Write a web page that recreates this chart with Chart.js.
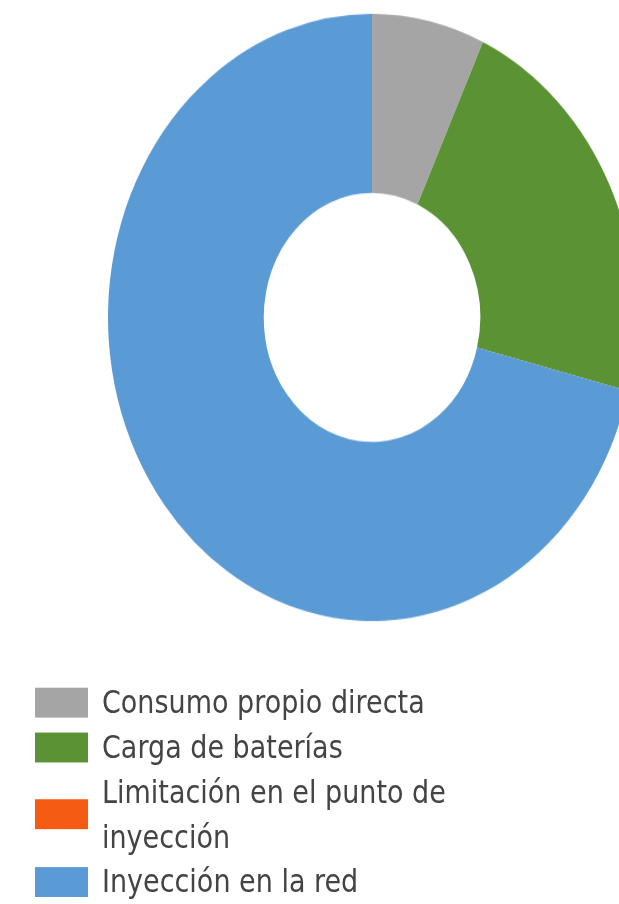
<!DOCTYPE html>
<html lang="es">
<head>
<meta charset="utf-8">
<title>Distribución de la energía FV</title>
<script src="https://cdn.jsdelivr.net/npm/chart.js@4.4.1/dist/chart.umd.min.js"></script>
<style>
  html { overflow: hidden; }
  html, body { margin: 0; padding: 0; background: #fff; }
  body { height: 904px; }
  /* the whole panel is drawn slightly taller than wide */
  #wrap { width: 640px; transform: scaleY(1.15); transform-origin: 0 0; }
  #chart { display: block; }
  #legend {
    list-style: none; margin: 31px 0 0 35px; padding: 0;
    font-family: "DejaVu Sans", sans-serif; font-size: 27px; line-height: 39px; color: #444;
  }
  #legend li { display: flex; align-items: center; }
  #legend .box { flex: none; width: 53px; height: 26px; margin-right: 14px; }
  #legend .txt { max-width: 370px; }
</style>
</head>
<body>
<div id="wrap">
  <canvas id="chart" width="640" height="560"></canvas>
  <ul id="legend"></ul>
</div>
<script>
// reparto de la producción (%)
const categories = ['Consumo propio directa', 'Carga de baterías', 'Limitación en el punto de inyección', 'Inyección en la red'];
const shares = [6.9, 22.0, 0, 71.1];
const colors = ['#a5a5a5', '#5b9334', '#f55b12', '#5b9bd5'];

const ctx = document.getElementById('chart').getContext('2d');

const chart = new Chart(ctx, {
  type: 'doughnut',
  data: {
    labels: categories,
    datasets: [{
      data: shares,
      backgroundColor: colors,
      borderWidth: 0
    }]
  },
  options: {
    responsive: false,
    animation: false,
    cutout: '41%',
    layout: {
      padding: { left: 108, right: 4, top: 12, bottom: 20 }
    },
    plugins: {
      legend: { display: false },
      tooltip: { enabled: false }
    }
  }
});

// leyenda en HTML, una fila por categoría
const legend = document.getElementById('legend');
chart.data.labels.forEach(function (label, i) {
  const li = document.createElement('li');
  const box = document.createElement('span');
  box.className = 'box';
  box.style.background = chart.data.datasets[0].backgroundColor[i];
  const txt = document.createElement('span');
  txt.className = 'txt';
  txt.textContent = label;
  li.appendChild(box);
  li.appendChild(txt);
  legend.appendChild(li);
});
</script>
</body>
</html>
